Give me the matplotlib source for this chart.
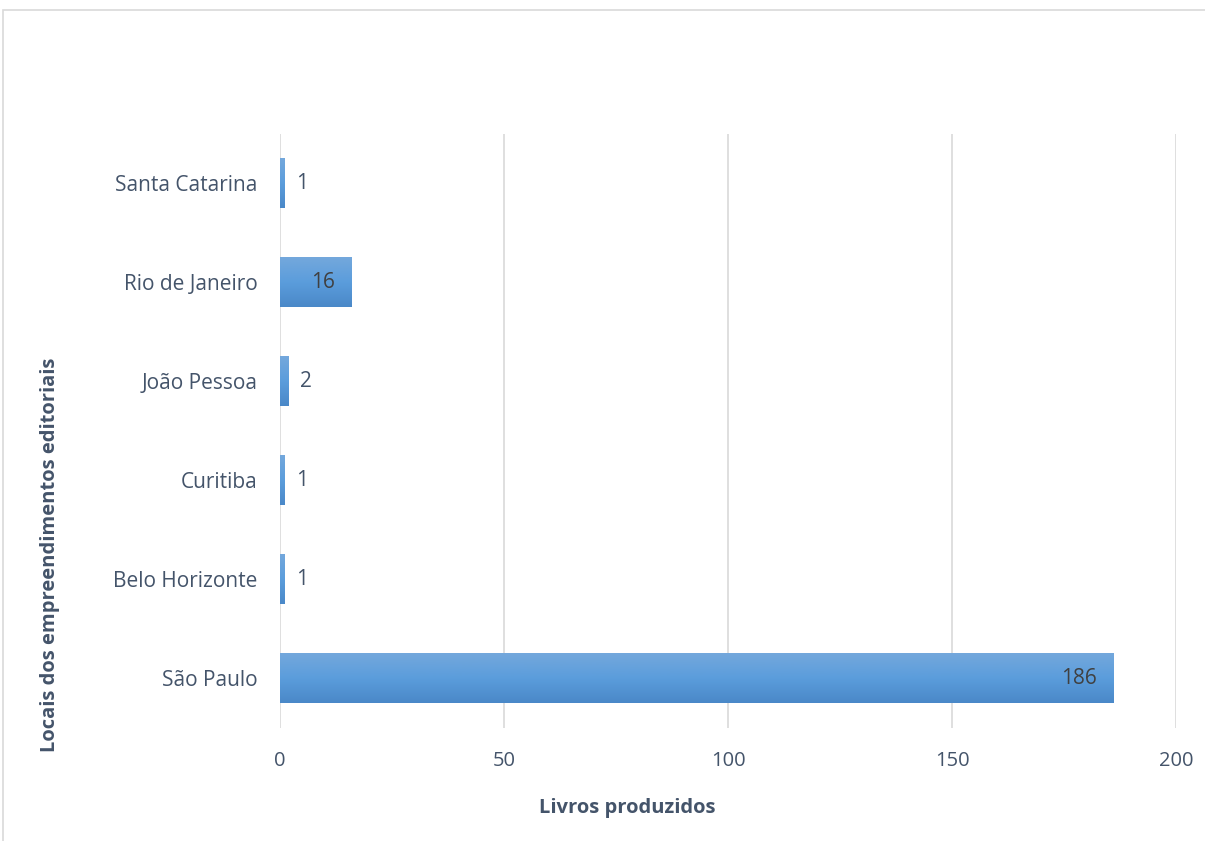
import matplotlib
matplotlib.use("Agg")
import matplotlib.pyplot as plt
import numpy as np
from matplotlib.patches import Rectangle
from matplotlib.colors import LinearSegmentedColormap

categories = ["São Paulo", "Belo Horizonte", "Curitiba", "João Pessoa", "Rio de Janeiro", "Santa Catarina"]
values = [186, 1, 1, 2, 16, 1]
xticks = [0, 50, 100, 150, 200]

plt.rcParams['font.family'] = ['Open Sans', 'DejaVu Sans']
txt = '#44546A'

W, H = 1205, 841
fig = plt.figure(figsize=(W/100, H/100), dpi=100)
ax = fig.add_axes([280/W, 1-727.5/H, (1176-280)/W, (727.5-133.5)/H])

y = np.arange(len(categories))
bars = ax.barh(y, values, height=0.5, color='#5B9BD5', zorder=2)
cmap = LinearSegmentedColormap.from_list('g', ['#4A88C8', '#5B9DDC', '#74A8DC'])
grad = np.linspace(0, 1, 256).reshape(-1, 1)
for b in bars:
    x0, y0, w, h = b.get_x(), b.get_y(), b.get_width(), b.get_height()
    im = ax.imshow(grad, cmap=cmap, aspect='auto', origin='lower',
                   extent=[x0, x0 + w, y0, y0 + h], zorder=3)
    im.set_clip_path(b)

ax.set_xlim(0, 200)
ax.set_ylim(-0.5, len(categories) - 0.5)
ax.set_xticks(xticks)
ax.set_xticklabels([str(t) for t in xticks])
ax.set_yticks(y)
ax.set_yticklabels(categories)
ax.tick_params(axis='both', length=0, colors=txt)
ax.tick_params(axis='x', pad=17, labelsize=14.5)
ax.tick_params(axis='y', pad=16, labelsize=15)
ax.grid(axis='x', color='#D9D9D9', linewidth=1.2, zorder=0)
for s in ax.spines.values():
    s.set_visible(False)

for b, v in zip(bars, values):
    yc = b.get_y() + b.get_height() / 2
    if v >= 10:
        ax.annotate(str(v), (v, yc), xytext=(-12, 0), textcoords='offset points',
                    ha='right', va='center', fontsize=15, color='#404040', zorder=4)
    else:
        ax.annotate(str(v), (v, yc), xytext=(8, 0), textcoords='offset points',
                    ha='left', va='center', fontsize=15, color=txt, zorder=4)

fig.text(627/W, 1-808/H, 'Livros produzidos', ha='center', va='center',
         fontsize=14.5, fontweight='bold', color=txt)
fig.text(50/W, 1-555/H, 'Locais dos empreendimentos editoriais', ha='center', va='center',
         rotation=90, fontsize=14.5, fontweight='bold', color=txt)

fig.patches.append(Rectangle((3/W, -0.1), 1.2, 1-10/H + 0.1, transform=fig.transFigure,
                             fill=False, edgecolor='#D9D9D9', linewidth=1.2))

fig.savefig('out.png', dpi=100, facecolor='white')
